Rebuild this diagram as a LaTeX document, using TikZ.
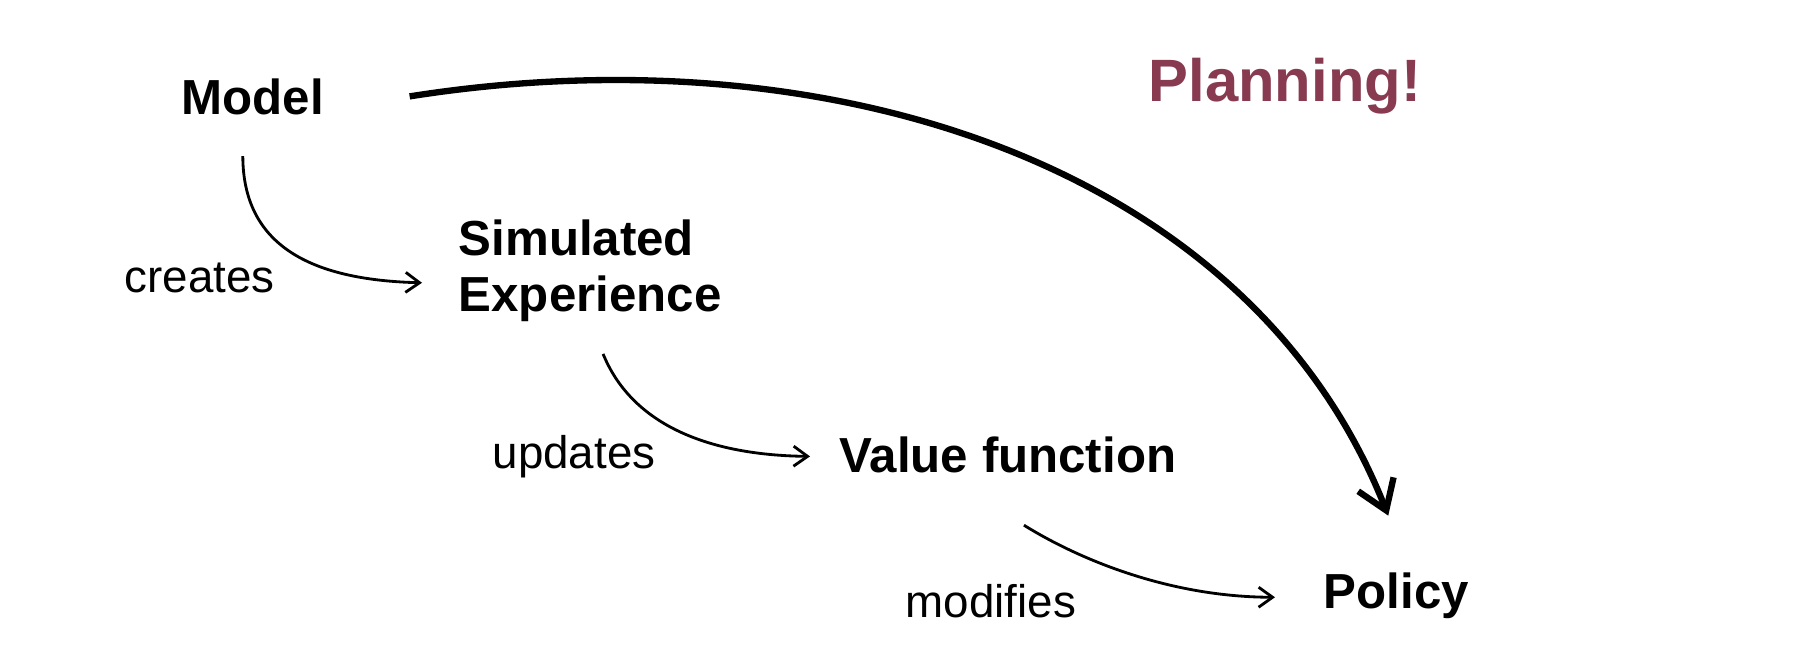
\documentclass[tikz,border=0pt]{standalone}
\usepackage{fontspec}
\setmainfont{Liberation Sans}
\usetikzlibrary{arrows.meta}
\definecolor{planred}{RGB}{135,58,80}
\tikzset{
  term/.style={inner sep=0pt, anchor=base west, font=\fontsize{14}{16.2}\selectfont\bfseries},
  verb/.style={inner sep=0pt, anchor=base west, font=\fontsize{13}{15}\selectfont},
  flow/.style={line width=0.8pt, -{Straight Barb[length=1.4mm,width=2mm]}},
  plan/.style={line width=1.8pt, -{Straight Barb[length=2.8mm,width=3.8mm]}}
}
\begin{document}
\begin{tikzpicture}[x=0.01cm, y=-0.01cm]
\useasboundingbox (0,0) rectangle (1798,658);
% terms
\node[term] (model) at (181,115) {Model};
\node[term, align=left] (simexp) at (458,312) {Simulated\\Experience};
\node[term] (valuefn) at (839,472) {Value function};
\node[term] (policy) at (1323,608) {Policy};
\node[
  inner sep=0pt,
  anchor=base west,
  text=planred,
  font=\fontsize{17}{20}\selectfont\bfseries
] (planning) at (1148,102) {Planning!};
% verbs
\node[verb] (creates) at (124,293) {creates};
\node[verb] (updates) at (492,468) {updates};
\node[verb] (modifies) at (905,617) {modifies};
% arrows
\draw[flow] ([shift={(-10,40)}]model.south)
  .. controls (243,245) and (310,280) .. ([shift={(-36,12)}]simexp.west);
\draw[flow] ([shift={(13,31)}]simexp.south)
  .. controls (630,420) and (700,455) .. ([shift={(-29,2)}]valuefn.west);
\draw[flow] ([shift={(16,52)}]valuefn.south)
  .. controls (1080,560) and (1170,597) .. ([shift={(-48,2)}]policy.west);
\draw[plan] ([shift={(85,-1)}]model.east)
  .. controls (830,30) and (1250,165) .. ([shift={(-8,-56)}]policy.north);
\end{tikzpicture}
\end{document}
